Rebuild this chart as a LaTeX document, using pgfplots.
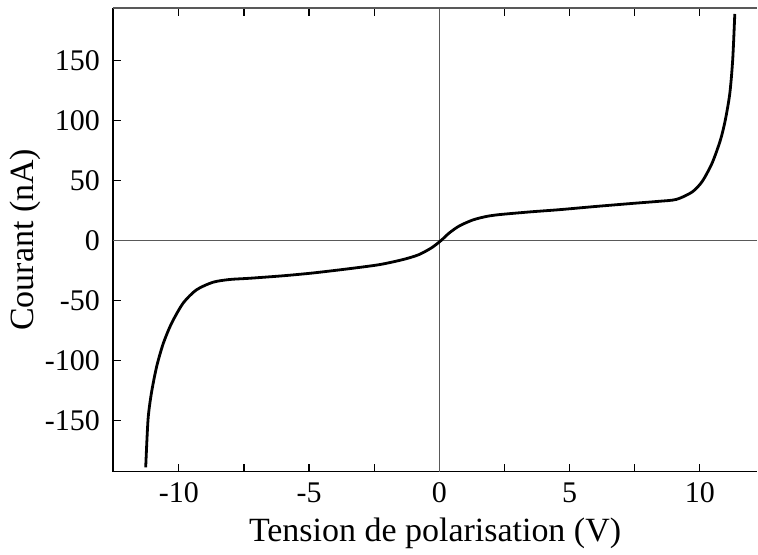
\documentclass[border=0pt]{standalone}
\usepackage{pgfplots}
\pgfplotsset{compat=1.18}
\usepackage{fontspec}
\setmainfont{Liberation Serif}
\begin{document}
\begin{tikzpicture}
\begin{axis}[
  scale only axis,
  width=322.5pt, height=232pt,
  xmin=-12.53, xmax=12.2,
  ymin=-192.5, ymax=194,
  axis x line=box,
  axis y line*=left,
  xtick={-10,-5,0,5,10},
  minor x tick num=1,
  ytick={-150,-100,-50,0,50,100,150},
  tick align=inside,
  tick style={black, line width=0.6pt},
  minor tick style={black, line width=0.6pt},
  major tick length=4pt,
  minor tick length=4pt,
  axis line style={line width=0.8pt},
  x axis line style={-},
  y axis line style={-},
  /pgf/number format/assume math mode=true,
  tick label style={font=\fontsize{15}{17}\selectfont},
  xticklabel style={yshift=-2pt},
  yticklabel style={xshift=-3pt},
  xlabel={Tension de polarisation (V)},
  ylabel={Courant (nA)},
  label style={font=\fontsize{17}{20}\selectfont},
  xlabel style={yshift=-0.5pt},
  ylabel style={yshift=-5pt},
  clip=true,
]
\draw[gray!70!black, line width=0.6pt] (axis cs:0,-192.5) -- (axis cs:0,194);
\draw[gray!70!black, line width=0.6pt] (axis cs:-12.53,0) -- (axis cs:12.2,0);
\draw[gray!70!black, line width=0.8pt] (axis cs:-12.53,194) -- (axis cs:12.2,194);
\addplot[black, line width=1.4pt, smooth, tension=0.45] coordinates {
(-11.27,-189)
(-11.18,-149)
(-11.05,-127)
(-10.85,-105)
(-10.60,-86)
(-10.28,-69)
(-9.83,-52)
(-9.32,-41)
(-8.69,-34.7)
(-8.05,-32.4)
(-7.3,-31.4)
(-6,-29.3)
(-4.87,-27)
(-3.5,-23.5)
(-2.3,-20)
(-1.4,-15.8)
(-0.8,-11.8)
(-0.3,-6)
(0.06,0)
(0.38,6.4)
(0.77,12.3)
(1.28,17.2)
(1.79,20.1)
(2.3,21.7)
(3.5,24)
(4.6,25.8)
(6,28.5)
(7.5,31.2)
(8.43,32.8)
(9.1,34.4)
(9.70,40.5)
(10.09,49.4)
(10.47,64.7)
(10.79,84)
(10.98,101)
(11.15,123)
(11.26,151)
(11.34,189)
};
\end{axis}
\path[use as bounding box] ([shift={(-56.5pt,-36pt)}]current axis.south west) rectangle ([shift={(0pt,4pt)}]current axis.north east);
\end{tikzpicture}
\end{document}
